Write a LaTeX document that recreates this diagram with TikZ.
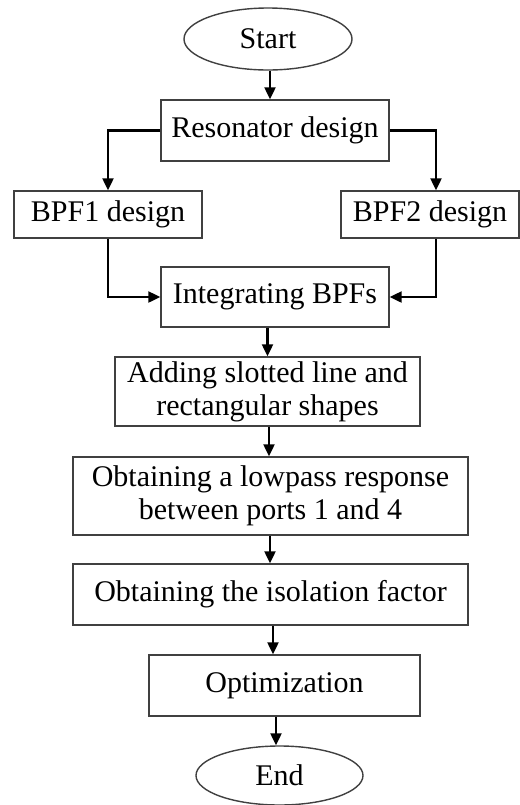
\documentclass[tikz,border=0pt]{standalone}
\usepackage{fontspec}
\setmainfont{Liberation Serif}
\usepackage{tikz}
\tikzset{
  block_font/.style = {font=\fontsize{15}{16.5}\selectfont},
  block_line/.style = {draw=black!75, line width=0.7pt}
}
\tikzset{
  block/.style = {block_font, block_line, rectangle, align=center, inner sep=0},
  terminal/.style = {block_font, block_line, ellipse, inner sep=0},
  arrow/.style = {line width=1.1pt, -{Triangle[length=6pt,width=5.5pt]}}
}
\usetikzlibrary{shapes.geometric, arrows.meta, positioning, calc}

\begin{document}
\begin{tikzpicture}[x=0.5pt, y=-0.5pt]{
        \useasboundingbox (0,0) rectangle (520,805);

        % Terminals
        \node[terminal, minimum width=84pt, minimum height=31pt] at (268,39) (start) {Start};
        \node[terminal, minimum width=83.5pt, minimum height=29.5pt] at (279.5,775.5) (end) {End};

        % Design steps
        \node[block, minimum width=114pt, minimum height=30.5pt] at (275,130.5) (reso) {
            Resonator design};
        \node[block, minimum width=94pt, minimum height=23.5pt] at (108,214.5) (bpf_1) {
            BPF1 design};
        \node[block, minimum width=89pt, minimum height=23.5pt] at (430,214.5) (bpf_2) {
            BPF2 design};
        \node[block, minimum width=114pt, minimum height=30pt] at (275,297) (integ) {
            Integrating BPFs};
        \node[block, minimum width=152.5pt, minimum height=34.5pt] at (267.5,391.5) (adding) {
            Adding slotted line and\\ rectangular shapes};
        \node[block, minimum width=197.5pt, minimum height=39pt] at (270.5,496) (lowpass) {
            Obtaining a lowpass response\\ between ports 1 and 4};
        \node[block, minimum width=197.5pt, minimum height=30.5pt] at (270.5,594.5) (isol) {
            Obtaining the isolation factor};
        \node[block, minimum width=135.5pt, minimum height=30.5pt] at (284.5,685.5) (optim) {
            Optimization};

        % Arrows
        \draw[arrow] (start.south -| 270,0) -- (reso.north -| 270,0);
        \draw[arrow] (reso.west) -| (bpf_1.north);
        \draw[arrow] (reso.east) -| ($(bpf_2.north)+(6,0)$);
        \draw[arrow] (bpf_1.south) |- (integ.west);
        \draw[arrow] ($(bpf_2.south)+(6,0)$) |- (integ.east);
        \draw[arrow] (integ.south -| adding) -- (adding.north);
        \draw[arrow] (adding.south -| 269,0) -- (lowpass.north -| 269,0);
        \draw[arrow] (lowpass.south -| 270,0) -- (isol.north -| 270,0);
        \draw[arrow] (isol.south -| 273,0) -- (optim.north -| 273,0);
        \draw[arrow] (optim.south -| 276,0) -- (end.north -| 276,0);
        }
\end{tikzpicture}
\end{document}
